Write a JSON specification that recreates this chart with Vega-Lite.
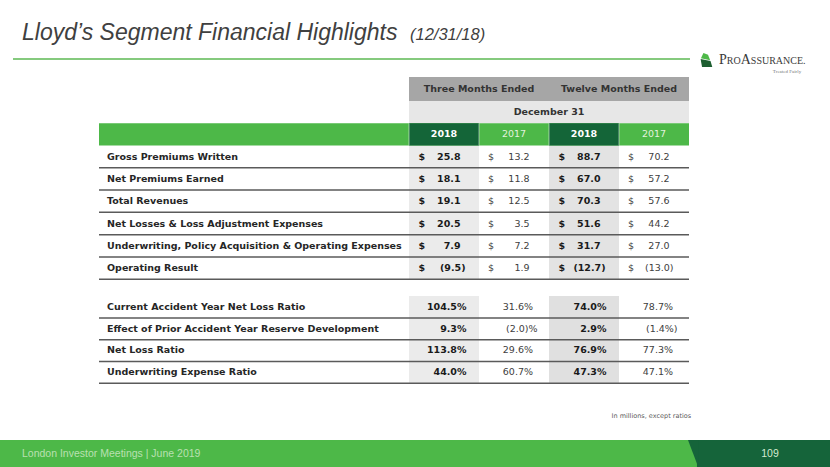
{
"$schema":"https://vega.github.io/schema/vega-lite/v6.json",
"width":830,"height":467,"padding":0,
"autosize":{"type":"fit","contains":"padding"},
"config":{"view":{"stroke":null},"text":{"font":"DejaVu Sans","baseline":"middle"}},
"background":"#ffffff",
"data":{"values":[{}]},
"datasets":{
"labels":[
{"r":0,"label":"Gross Premiums Written"},
{"r":1,"label":"Net Premiums Earned"},
{"r":2,"label":"Total Revenues"},
{"r":3,"label":"Net Losses & Loss Adjustment Expenses"},
{"r":4,"label":"Underwriting, Policy Acquisition & Operating Expenses"},
{"r":5,"label":"Operating Result"},
{"r":7,"label":"Current Accident Year Net Loss Ratio"},
{"r":8,"label":"Effect of Prior Accident Year Reserve Development"},
{"r":9,"label":"Net Loss Ratio"},
{"r":10,"label":"Underwriting Expense Ratio"}],
"years":[{"c":0,"year":"2018"},{"c":1,"year":"2017"},{"c":2,"year":"2018"},{"c":3,"year":"2017"}],
"cells":[
{"r":0,"c":0,"v":"25.8"},{"r":0,"c":1,"v":"13.2"},{"r":0,"c":2,"v":"88.7"},{"r":0,"c":3,"v":"70.2"},
{"r":1,"c":0,"v":"18.1"},{"r":1,"c":1,"v":"11.8"},{"r":1,"c":2,"v":"67.0"},{"r":1,"c":3,"v":"57.2"},
{"r":2,"c":0,"v":"19.1"},{"r":2,"c":1,"v":"12.5"},{"r":2,"c":2,"v":"70.3"},{"r":2,"c":3,"v":"57.6"},
{"r":3,"c":0,"v":"20.5"},{"r":3,"c":1,"v":"3.5"},{"r":3,"c":2,"v":"51.6"},{"r":3,"c":3,"v":"44.2"},
{"r":4,"c":0,"v":"7.9"},{"r":4,"c":1,"v":"7.2"},{"r":4,"c":2,"v":"31.7"},{"r":4,"c":3,"v":"27.0"},
{"r":5,"c":0,"v":"(9.5)"},{"r":5,"c":1,"v":"1.9"},{"r":5,"c":2,"v":"(12.7)"},{"r":5,"c":3,"v":"(13.0)"},
{"r":7,"c":0,"v":"104.5%"},{"r":7,"c":1,"v":"31.6%"},{"r":7,"c":2,"v":"74.0%"},{"r":7,"c":3,"v":"78.7%"},
{"r":8,"c":0,"v":"9.3%"},{"r":8,"c":1,"v":"(2.0)%"},{"r":8,"c":2,"v":"2.9%"},{"r":8,"c":3,"v":"(1.4%)"},
{"r":9,"c":0,"v":"113.8%"},{"r":9,"c":1,"v":"29.6%"},{"r":9,"c":2,"v":"76.9%"},{"r":9,"c":3,"v":"77.3%"},
{"r":10,"c":0,"v":"44.0%"},{"r":10,"c":1,"v":"60.7%"},{"r":10,"c":2,"v":"47.3%"},{"r":10,"c":3,"v":"47.1%"}]
},
"layer":[
{"mark":{"type":"rect","color":"#a6a6a6"},"encoding":{"x":{"datum":0,"type":"quantitative","scale":{"domain":[-2,-1,0,4,6],"range":[0,99,409,689,830],"zero":false,"nice":false},"axis":null},"x2":{"datum":4},"y":{"datum":-3.5,"type":"quantitative","scale":{"domain":[-7,-3.5,-2.5,-0.5,5.5,6.5,10.5,14],"range":[0,77,101,145.5,279.5,296,383,467],"zero":false,"nice":false},"axis":null},"y2":{"datum":-2.5}}},
{"mark":{"type":"rect","color":"#e7e7e7"},"encoding":{"x":{"datum":0,"type":"quantitative","scale":{"domain":[-2,-1,0,4,6],"range":[0,99,409,689,830],"zero":false,"nice":false},"axis":null},"x2":{"datum":4},"y":{"datum":-2.5,"type":"quantitative","scale":{"domain":[-7,-3.5,-2.5,-0.5,5.5,6.5,10.5,14],"range":[0,77,101,145.5,279.5,296,383,467],"zero":false,"nice":false},"axis":null},"y2":{"datum":-1.5}}},
{"mark":{"type":"rect","color":"#ebebeb"},"encoding":{"x":{"datum":0,"type":"quantitative","scale":{"domain":[-2,-1,0,4,6],"range":[0,99,409,689,830],"zero":false,"nice":false},"axis":null},"x2":{"datum":1},"y":{"datum":-0.5,"type":"quantitative","scale":{"domain":[-7,-3.5,-2.5,-0.5,5.5,6.5,10.5,14],"range":[0,77,101,145.5,279.5,296,383,467],"zero":false,"nice":false},"axis":null},"y2":{"datum":5.5}}},
{"mark":{"type":"rect","color":"#e3e3e3"},"encoding":{"x":{"datum":2,"type":"quantitative","scale":{"domain":[-2,-1,0,4,6],"range":[0,99,409,689,830],"zero":false,"nice":false},"axis":null},"x2":{"datum":3},"y":{"datum":-0.5,"type":"quantitative","scale":{"domain":[-7,-3.5,-2.5,-0.5,5.5,6.5,10.5,14],"range":[0,77,101,145.5,279.5,296,383,467],"zero":false,"nice":false},"axis":null},"y2":{"datum":5.5}}},
{"mark":{"type":"rect","color":"#ebebeb"},"encoding":{"x":{"datum":0,"type":"quantitative","scale":{"domain":[-2,-1,0,4,6],"range":[0,99,409,689,830],"zero":false,"nice":false},"axis":null},"x2":{"datum":1},"y":{"datum":6.5,"type":"quantitative","scale":{"domain":[-7,-3.5,-2.5,-0.5,5.5,6.5,10.5,14],"range":[0,77,101,145.5,279.5,296,383,467],"zero":false,"nice":false},"axis":null},"y2":{"datum":10.5}}},
{"mark":{"type":"rect","color":"#e0e0e0"},"encoding":{"x":{"datum":2,"type":"quantitative","scale":{"domain":[-2,-1,0,4,6],"range":[0,99,409,689,830],"zero":false,"nice":false},"axis":null},"x2":{"datum":3},"y":{"datum":6.5,"type":"quantitative","scale":{"domain":[-7,-3.5,-2.5,-0.5,5.5,6.5,10.5,14],"range":[0,77,101,145.5,279.5,296,383,467],"zero":false,"nice":false},"axis":null},"y2":{"datum":10.5}}},
{"mark":{"type":"rect","color":"#4db848"},"encoding":{"x":{"datum":-1,"type":"quantitative","scale":{"domain":[-2,-1,0,4,6],"range":[0,99,409,689,830],"zero":false,"nice":false},"axis":null},"x2":{"datum":4},"y":{"datum":-1.5,"type":"quantitative","scale":{"domain":[-7,-3.5,-2.5,-0.5,5.5,6.5,10.5,14],"range":[0,77,101,145.5,279.5,296,383,467],"zero":false,"nice":false},"axis":null},"y2":{"datum":-0.5}}},
{"mark":{"type":"rect","color":"#146538"},"encoding":{"x":{"datum":0,"type":"quantitative","scale":{"domain":[-2,-1,0,4,6],"range":[0,99,409,689,830],"zero":false,"nice":false},"axis":null},"x2":{"datum":1},"y":{"datum":-1.5,"type":"quantitative","scale":{"domain":[-7,-3.5,-2.5,-0.5,5.5,6.5,10.5,14],"range":[0,77,101,145.5,279.5,296,383,467],"zero":false,"nice":false},"axis":null},"y2":{"datum":-0.5}}},
{"mark":{"type":"rect","color":"#146538"},"encoding":{"x":{"datum":2,"type":"quantitative","scale":{"domain":[-2,-1,0,4,6],"range":[0,99,409,689,830],"zero":false,"nice":false},"axis":null},"x2":{"datum":3},"y":{"datum":-1.5,"type":"quantitative","scale":{"domain":[-7,-3.5,-2.5,-0.5,5.5,6.5,10.5,14],"range":[0,77,101,145.5,279.5,296,383,467],"zero":false,"nice":false},"axis":null},"y2":{"datum":-0.5}}},
{"data":{"name":"years"},"mark":{"type":"rule","color":"#ffffff","strokeWidth":1,"opacity":0.5},"encoding":{"x":{"field":"c","type":"quantitative","scale":{"domain":[-2,-1,0,4,6],"range":[0,99,409,689,830],"zero":false,"nice":false},"axis":null},"y":{"datum":-1.5,"type":"quantitative","scale":{"domain":[-7,-3.5,-2.5,-0.5,5.5,6.5,10.5,14],"range":[0,77,101,145.5,279.5,296,383,467],"zero":false,"nice":false},"axis":null},"y2":{"datum":-0.5}}},
{"mark":{"type":"text","text":"Three Months Ended","fontSize":9.5,"fontWeight":"bold","color":"#333333","align":"center"},"encoding":{"x":{"datum":1,"type":"quantitative","scale":{"domain":[-2,-1,0,4,6],"range":[0,99,409,689,830],"zero":false,"nice":false},"axis":null},"y":{"datum":-3,"type":"quantitative","scale":{"domain":[-7,-3.5,-2.5,-0.5,5.5,6.5,10.5,14],"range":[0,77,101,145.5,279.5,296,383,467],"zero":false,"nice":false},"axis":null}}},
{"mark":{"type":"text","text":"Twelve Months Ended","fontSize":9.5,"fontWeight":"bold","color":"#333333","align":"center"},"encoding":{"x":{"datum":3,"type":"quantitative","scale":{"domain":[-2,-1,0,4,6],"range":[0,99,409,689,830],"zero":false,"nice":false},"axis":null},"y":{"datum":-3,"type":"quantitative","scale":{"domain":[-7,-3.5,-2.5,-0.5,5.5,6.5,10.5,14],"range":[0,77,101,145.5,279.5,296,383,467],"zero":false,"nice":false},"axis":null}}},
{"mark":{"type":"text","text":"December 31","fontSize":9.5,"fontWeight":"bold","color":"#333333","align":"center"},"encoding":{"x":{"datum":2,"type":"quantitative","scale":{"domain":[-2,-1,0,4,6],"range":[0,99,409,689,830],"zero":false,"nice":false},"axis":null},"y":{"datum":-2,"type":"quantitative","scale":{"domain":[-7,-3.5,-2.5,-0.5,5.5,6.5,10.5,14],"range":[0,77,101,145.5,279.5,296,383,467],"zero":false,"nice":false},"axis":null}}},
{"data":{"name":"years"},"transform":[{"filter":"datum.c%2==0"}],"mark":{"type":"text","fontSize":9.5,"fontWeight":"bold","color":"#ffffff","align":"center","dx":35},"encoding":{"text":{"field":"year"},"x":{"field":"c","type":"quantitative","scale":{"domain":[-2,-1,0,4,6],"range":[0,99,409,689,830],"zero":false,"nice":false},"axis":null},"y":{"datum":-1,"type":"quantitative","scale":{"domain":[-7,-3.5,-2.5,-0.5,5.5,6.5,10.5,14],"range":[0,77,101,145.5,279.5,296,383,467],"zero":false,"nice":false},"axis":null}}},
{"data":{"name":"years"},"transform":[{"filter":"datum.c%2==1"}],"mark":{"type":"text","fontSize":9.5,"color":"#e2f2de","align":"center","dx":35},"encoding":{"text":{"field":"year"},"x":{"field":"c","type":"quantitative","scale":{"domain":[-2,-1,0,4,6],"range":[0,99,409,689,830],"zero":false,"nice":false},"axis":null},"y":{"datum":-1,"type":"quantitative","scale":{"domain":[-7,-3.5,-2.5,-0.5,5.5,6.5,10.5,14],"range":[0,77,101,145.5,279.5,296,383,467],"zero":false,"nice":false},"axis":null}}},
{"data":{"name":"labels"},"mark":{"type":"rule","color":"#5a5a5a","strokeWidth":1.5,"yOffset":11},"encoding":{"x":{"datum":-1,"type":"quantitative","scale":{"domain":[-2,-1,0,4,6],"range":[0,99,409,689,830],"zero":false,"nice":false},"axis":null},"x2":{"datum":4},"y":{"field":"r","type":"quantitative","scale":{"domain":[-7,-3.5,-2.5,-0.5,5.5,6.5,10.5,14],"range":[0,77,101,145.5,279.5,296,383,467],"zero":false,"nice":false},"axis":null}}},
{"data":{"name":"labels"},"mark":{"type":"text","fontSize":9.5,"fontWeight":"bold","color":"#262626","align":"left","dx":8},"encoding":{"text":{"field":"label"},"x":{"datum":-1,"type":"quantitative","scale":{"domain":[-2,-1,0,4,6],"range":[0,99,409,689,830],"zero":false,"nice":false},"axis":null},"y":{"field":"r","type":"quantitative","scale":{"domain":[-7,-3.5,-2.5,-0.5,5.5,6.5,10.5,14],"range":[0,77,101,145.5,279.5,296,383,467],"zero":false,"nice":false},"axis":null}}},
{"data":{"name":"cells"},"transform":[{"filter":"datum.r<6 && datum.c%2==0"}],"mark":{"type":"text","text":"$","fontSize":9.5,"fontWeight":"bold","color":"#1a1a1a","align":"left","dx":9.5},"encoding":{"x":{"field":"c","type":"quantitative","scale":{"domain":[-2,-1,0,4,6],"range":[0,99,409,689,830],"zero":false,"nice":false},"axis":null},"y":{"field":"r","type":"quantitative","scale":{"domain":[-7,-3.5,-2.5,-0.5,5.5,6.5,10.5,14],"range":[0,77,101,145.5,279.5,296,383,467],"zero":false,"nice":false},"axis":null}}},
{"data":{"name":"cells"},"transform":[{"filter":"datum.r<6 && datum.c%2==1"}],"mark":{"type":"text","text":"$","fontSize":9.5,"color":"#404040","align":"left","dx":9},"encoding":{"x":{"field":"c","type":"quantitative","scale":{"domain":[-2,-1,0,4,6],"range":[0,99,409,689,830],"zero":false,"nice":false},"axis":null},"y":{"field":"r","type":"quantitative","scale":{"domain":[-7,-3.5,-2.5,-0.5,5.5,6.5,10.5,14],"range":[0,77,101,145.5,279.5,296,383,467],"zero":false,"nice":false},"axis":null}}},
{"data":{"name":"cells"},"transform":[{"filter":"datum.r<6 && datum.c%2==0 && indexof(datum.v,'(')<0"}],"mark":{"type":"text","fontSize":9.5,"fontWeight":"bold","color":"#1a1a1a","align":"right","dx":51.5},"encoding":{"text":{"field":"v"},"x":{"field":"c","type":"quantitative","scale":{"domain":[-2,-1,0,4,6],"range":[0,99,409,689,830],"zero":false,"nice":false},"axis":null},"y":{"field":"r","type":"quantitative","scale":{"domain":[-7,-3.5,-2.5,-0.5,5.5,6.5,10.5,14],"range":[0,77,101,145.5,279.5,296,383,467],"zero":false,"nice":false},"axis":null}}},
{"data":{"name":"cells"},"transform":[{"filter":"datum.r<6 && datum.c%2==0 && indexof(datum.v,'(')>=0"}],"mark":{"type":"text","fontSize":9.5,"fontWeight":"bold","color":"#1a1a1a","align":"right","dx":56.5},"encoding":{"text":{"field":"v"},"x":{"field":"c","type":"quantitative","scale":{"domain":[-2,-1,0,4,6],"range":[0,99,409,689,830],"zero":false,"nice":false},"axis":null},"y":{"field":"r","type":"quantitative","scale":{"domain":[-7,-3.5,-2.5,-0.5,5.5,6.5,10.5,14],"range":[0,77,101,145.5,279.5,296,383,467],"zero":false,"nice":false},"axis":null}}},
{"data":{"name":"cells"},"transform":[{"filter":"datum.r<6 && datum.c%2==1 && indexof(datum.v,'(')<0"}],"mark":{"type":"text","fontSize":9.5,"color":"#404040","align":"right","dx":50.5},"encoding":{"text":{"field":"v"},"x":{"field":"c","type":"quantitative","scale":{"domain":[-2,-1,0,4,6],"range":[0,99,409,689,830],"zero":false,"nice":false},"axis":null},"y":{"field":"r","type":"quantitative","scale":{"domain":[-7,-3.5,-2.5,-0.5,5.5,6.5,10.5,14],"range":[0,77,101,145.5,279.5,296,383,467],"zero":false,"nice":false},"axis":null}}},
{"data":{"name":"cells"},"transform":[{"filter":"datum.r<6 && datum.c%2==1 && indexof(datum.v,'(')>=0"}],"mark":{"type":"text","fontSize":9.5,"color":"#404040","align":"right","dx":54.5},"encoding":{"text":{"field":"v"},"x":{"field":"c","type":"quantitative","scale":{"domain":[-2,-1,0,4,6],"range":[0,99,409,689,830],"zero":false,"nice":false},"axis":null},"y":{"field":"r","type":"quantitative","scale":{"domain":[-7,-3.5,-2.5,-0.5,5.5,6.5,10.5,14],"range":[0,77,101,145.5,279.5,296,383,467],"zero":false,"nice":false},"axis":null}}},
{"data":{"name":"cells"},"transform":[{"filter":"datum.r>6 && datum.c%2==0"}],"mark":{"type":"text","fontSize":9.5,"fontWeight":"bold","color":"#1a1a1a","align":"right","dx":57.5},"encoding":{"text":{"field":"v"},"x":{"field":"c","type":"quantitative","scale":{"domain":[-2,-1,0,4,6],"range":[0,99,409,689,830],"zero":false,"nice":false},"axis":null},"y":{"field":"r","type":"quantitative","scale":{"domain":[-7,-3.5,-2.5,-0.5,5.5,6.5,10.5,14],"range":[0,77,101,145.5,279.5,296,383,467],"zero":false,"nice":false},"axis":null}}},
{"data":{"name":"cells"},"transform":[{"filter":"datum.r>6 && datum.c%2==1 && indexof(datum.v,'(')<0"}],"mark":{"type":"text","fontSize":9.5,"color":"#404040","align":"right","dx":54},"encoding":{"text":{"field":"v"},"x":{"field":"c","type":"quantitative","scale":{"domain":[-2,-1,0,4,6],"range":[0,99,409,689,830],"zero":false,"nice":false},"axis":null},"y":{"field":"r","type":"quantitative","scale":{"domain":[-7,-3.5,-2.5,-0.5,5.5,6.5,10.5,14],"range":[0,77,101,145.5,279.5,296,383,467],"zero":false,"nice":false},"axis":null}}},
{"data":{"name":"cells"},"transform":[{"filter":"datum.r>6 && datum.c%2==1 && indexof(datum.v,'(')>=0"}],"mark":{"type":"text","fontSize":9.5,"color":"#404040","align":"right","dx":58.5},"encoding":{"text":{"field":"v"},"x":{"field":"c","type":"quantitative","scale":{"domain":[-2,-1,0,4,6],"range":[0,99,409,689,830],"zero":false,"nice":false},"axis":null},"y":{"field":"r","type":"quantitative","scale":{"domain":[-7,-3.5,-2.5,-0.5,5.5,6.5,10.5,14],"range":[0,77,101,145.5,279.5,296,383,467],"zero":false,"nice":false},"axis":null}}},
{"mark":{"type":"text","text":"Lloyd’s Segment Financial Highlights","font":"Liberation Sans","fontSize":23,"fontStyle":"italic","color":"#404040","align":"left","baseline":"alphabetic"},"encoding":{"x":{"datum":-1.778,"type":"quantitative","scale":{"domain":[-2,-1,0,4,6],"range":[0,99,409,689,830],"zero":false,"nice":false},"axis":null},"y":{"datum":-5.182,"type":"quantitative","scale":{"domain":[-7,-3.5,-2.5,-0.5,5.5,6.5,10.5,14],"range":[0,77,101,145.5,279.5,296,383,467],"zero":false,"nice":false},"axis":null}}},
{"mark":{"type":"text","text":"(12/31/18)","font":"Liberation Sans","fontSize":16.5,"fontStyle":"italic","color":"#404040","align":"left","baseline":"alphabetic"},"encoding":{"x":{"datum":0.014,"type":"quantitative","scale":{"domain":[-2,-1,0,4,6],"range":[0,99,409,689,830],"zero":false,"nice":false},"axis":null},"y":{"datum":-5.182,"type":"quantitative","scale":{"domain":[-7,-3.5,-2.5,-0.5,5.5,6.5,10.5,14],"range":[0,77,101,145.5,279.5,296,383,467],"zero":false,"nice":false},"axis":null}}},
{"mark":{"type":"rule","color":"#5cb953","strokeWidth":1.5},"encoding":{"x":{"datum":-1.869,"type":"quantitative","scale":{"domain":[-2,-1,0,4,6],"range":[0,99,409,689,830],"zero":false,"nice":false},"axis":null},"x2":{"datum":4.014},"y":{"datum":-4.318,"type":"quantitative","scale":{"domain":[-7,-3.5,-2.5,-0.5,5.5,6.5,10.5,14],"range":[0,77,101,145.5,279.5,296,383,467],"zero":false,"nice":false},"axis":null}}},
{"mark":{"type":"point","shape":"M -0.9 -0.15 L 0.5 0.15 L 0.75 1 L -0.7 1 Z","filled":true,"color":"#1d5e30","size":200,"opacity":1},"encoding":{"x":{"datum":4.255,"type":"quantitative","scale":{"domain":[-2,-1,0,4,6],"range":[0,99,409,689,830],"zero":false,"nice":false},"axis":null},"y":{"datum":-4.273,"type":"quantitative","scale":{"domain":[-7,-3.5,-2.5,-0.5,5.5,6.5,10.5,14],"range":[0,77,101,145.5,279.5,296,383,467],"zero":false,"nice":false},"axis":null}}},
{"mark":{"type":"point","shape":"M -0.5 -1 L 0.15 -0.75 L 0.45 0.05 L -0.85 -0.25 Z","filled":true,"color":"#4db848","size":200,"opacity":1},"encoding":{"x":{"datum":4.255,"type":"quantitative","scale":{"domain":[-2,-1,0,4,6],"range":[0,99,409,689,830],"zero":false,"nice":false},"axis":null},"y":{"datum":-4.273,"type":"quantitative","scale":{"domain":[-7,-3.5,-2.5,-0.5,5.5,6.5,10.5,14],"range":[0,77,101,145.5,279.5,296,383,467],"zero":false,"nice":false},"axis":null}}},
{"mark":{"type":"text","text":"P","font":"Liberation Serif","fontSize":14,"color":"#3a3a3a","align":"left","baseline":"alphabetic"},"encoding":{"x":{"datum":4.426,"type":"quantitative","scale":{"domain":[-2,-1,0,4,6],"range":[0,99,409,689,830],"zero":false,"nice":false},"axis":null},"y":{"datum":-4.091,"type":"quantitative","scale":{"domain":[-7,-3.5,-2.5,-0.5,5.5,6.5,10.5,14],"range":[0,77,101,145.5,279.5,296,383,467],"zero":false,"nice":false},"axis":null}}},
{"mark":{"type":"text","text":"RO","font":"Liberation Serif","fontSize":10,"color":"#3a3a3a","align":"left","baseline":"alphabetic"},"encoding":{"x":{"datum":4.537,"type":"quantitative","scale":{"domain":[-2,-1,0,4,6],"range":[0,99,409,689,830],"zero":false,"nice":false},"axis":null},"y":{"datum":-4.091,"type":"quantitative","scale":{"domain":[-7,-3.5,-2.5,-0.5,5.5,6.5,10.5,14],"range":[0,77,101,145.5,279.5,296,383,467],"zero":false,"nice":false},"axis":null}}},
{"mark":{"type":"text","text":"A","font":"Liberation Serif","fontSize":14,"color":"#3a3a3a","align":"left","baseline":"alphabetic"},"encoding":{"x":{"datum":4.734,"type":"quantitative","scale":{"domain":[-2,-1,0,4,6],"range":[0,99,409,689,830],"zero":false,"nice":false},"axis":null},"y":{"datum":-4.091,"type":"quantitative","scale":{"domain":[-7,-3.5,-2.5,-0.5,5.5,6.5,10.5,14],"range":[0,77,101,145.5,279.5,296,383,467],"zero":false,"nice":false},"axis":null}}},
{"mark":{"type":"text","text":"SSURANCE.","font":"Liberation Serif","fontSize":10,"color":"#3a3a3a","align":"left","baseline":"alphabetic"},"encoding":{"x":{"datum":4.877,"type":"quantitative","scale":{"domain":[-2,-1,0,4,6],"range":[0,99,409,689,830],"zero":false,"nice":false},"axis":null},"y":{"datum":-4.091,"type":"quantitative","scale":{"domain":[-7,-3.5,-2.5,-0.5,5.5,6.5,10.5,14],"range":[0,77,101,145.5,279.5,296,383,467],"zero":false,"nice":false},"axis":null}}},
{"mark":{"type":"text","text":"Treated Fairly","font":"Liberation Serif","fontSize":5,"color":"#777777","align":"center"},"encoding":{"x":{"datum":5.39,"type":"quantitative","scale":{"domain":[-2,-1,0,4,6],"range":[0,99,409,689,830],"zero":false,"nice":false},"axis":null},"y":{"datum":-3.773,"type":"quantitative","scale":{"domain":[-7,-3.5,-2.5,-0.5,5.5,6.5,10.5,14],"range":[0,77,101,145.5,279.5,296,383,467],"zero":false,"nice":false},"axis":null}}},
{"mark":{"type":"text","text":"In millions, except ratios","fontSize":6.5,"color":"#595959","align":"right"},"encoding":{"x":{"datum":4.03,"type":"quantitative","scale":{"domain":[-2,-1,0,4,6],"range":[0,99,409,689,830],"zero":false,"nice":false},"axis":null},"y":{"datum":11.875,"type":"quantitative","scale":{"domain":[-7,-3.5,-2.5,-0.5,5.5,6.5,10.5,14],"range":[0,77,101,145.5,279.5,296,383,467],"zero":false,"nice":false},"axis":null}}},
{"mark":{"type":"rect","color":"#4db848"},"encoding":{"x":{"datum":-2,"type":"quantitative","scale":{"domain":[-2,-1,0,4,6],"range":[0,99,409,689,830],"zero":false,"nice":false},"axis":null},"x2":{"datum":6},"y":{"datum":12.875,"type":"quantitative","scale":{"domain":[-7,-3.5,-2.5,-0.5,5.5,6.5,10.5,14],"range":[0,77,101,145.5,279.5,296,383,467],"zero":false,"nice":false},"axis":null},"y2":{"datum":14}}},
{"mark":{"type":"rect","color":"#15643a"},"encoding":{"x":{"datum":4.113,"type":"quantitative","scale":{"domain":[-2,-1,0,4,6],"range":[0,99,409,689,830],"zero":false,"nice":false},"axis":null},"x2":{"datum":6},"y":{"datum":12.875,"type":"quantitative","scale":{"domain":[-7,-3.5,-2.5,-0.5,5.5,6.5,10.5,14],"range":[0,77,101,145.5,279.5,296,383,467],"zero":false,"nice":false},"axis":null},"y2":{"datum":14}}},
{"mark":{"type":"point","shape":"M -0.704 -1 L 0.06 -1 L 0.06 1.02 Z","filled":true,"color":"#15643a","size":729,"opacity":1,"strokeWidth":0},"encoding":{"x":{"datum":4.1206,"type":"quantitative","scale":{"domain":[-2,-1,0,4,6],"range":[0,99,409,689,830],"zero":false,"nice":false},"axis":null},"y":{"datum":13.4375,"type":"quantitative","scale":{"domain":[-7,-3.5,-2.5,-0.5,5.5,6.5,10.5,14],"range":[0,77,101,145.5,279.5,296,383,467],"zero":false,"nice":false},"axis":null}}},
{"mark":{"type":"text","text":"London Investor Meetings | June 2019","font":"Liberation Sans","fontSize":10.5,"color":"#b9e0b1","align":"left"},"encoding":{"x":{"datum":-1.778,"type":"quantitative","scale":{"domain":[-2,-1,0,4,6],"range":[0,99,409,689,830],"zero":false,"nice":false},"axis":null},"y":{"datum":13.458,"type":"quantitative","scale":{"domain":[-7,-3.5,-2.5,-0.5,5.5,6.5,10.5,14],"range":[0,77,101,145.5,279.5,296,383,467],"zero":false,"nice":false},"axis":null}}},
{"mark":{"type":"text","text":"109","font":"Liberation Sans","fontSize":10.5,"color":"#d4ead0","align":"center"},"encoding":{"x":{"datum":5.149,"type":"quantitative","scale":{"domain":[-2,-1,0,4,6],"range":[0,99,409,689,830],"zero":false,"nice":false},"axis":null},"y":{"datum":13.458,"type":"quantitative","scale":{"domain":[-7,-3.5,-2.5,-0.5,5.5,6.5,10.5,14],"range":[0,77,101,145.5,279.5,296,383,467],"zero":false,"nice":false},"axis":null}}}
]
}
